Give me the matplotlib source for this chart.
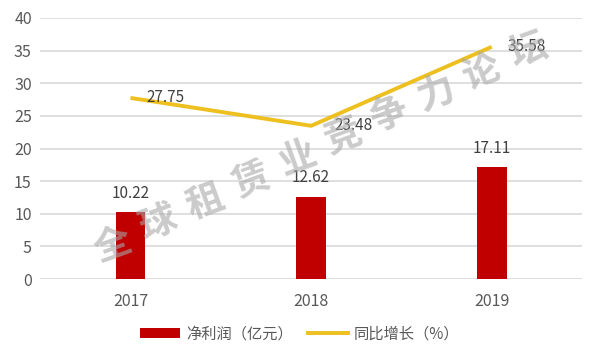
import matplotlib
matplotlib.use("Agg")
import matplotlib.pyplot as plt
from matplotlib.lines import Line2D
from matplotlib.patches import Patch

plt.rcParams['font.family'] = ['Noto Sans CJK SC', 'DejaVu Sans']

years = ["2017", "2018", "2019"]
profit = [10.22, 12.62, 17.11]
growth = [27.75, 23.48, 35.58]
watermark = "全球租赁业竞争力论坛"

bar_color = '#C00000'
line_color = '#EDC01F'
text_color = '#595959'

fig = plt.figure(figsize=(6, 3.6), dpi=100)
ax = fig.add_axes([0.067, 0.225, 0.903, 0.725])

x = range(len(years))
ax.bar(x, profit, width=0.165, color=bar_color, zorder=3)
ax.plot(x, growth, color=line_color, linewidth=2.8, zorder=4, solid_capstyle='butt')

for i, v in enumerate(profit):
    ax.text(i, v + 1.6, "%.2f" % v, ha='center', va='bottom', fontsize=11, color='#404040')
for i, v in enumerate(growth):
    dx = 0.09 if i != 1 else 0.13
    ax.text(i + dx, v, "%.2f" % v, ha='left', va='center', fontsize=11, color='#404040', zorder=5)

ax.set_xlim(-0.5, 2.5)
ax.set_ylim(0, 40)
ax.set_yticks(range(0, 41, 5))
ax.set_xticks(list(x))
ax.set_xticklabels(years)
ax.grid(axis='y', color='#D9D9D9', linewidth=1.2, zorder=0)
ax.tick_params(axis='both', length=0, labelsize=11.5, colors=text_color)
ax.tick_params(axis='x', pad=10)
ax.tick_params(axis='y', pad=6)
for s in ax.spines.values():
    s.set_visible(False)

# watermark, one character at a time along a diagonal (pixel positions)
x0, y0, x1, y1 = 112, 245, 528, 50
n = len(watermark)
for k, ch in enumerate(watermark):
    px = x0 + (x1 - x0) * k / (n - 1)
    py = y0 + (y1 - y0) * k / (n - 1)
    fig.text(px / 600, 1 - py / 360, ch, rotation=20, fontsize=27, fontweight='bold',
             color='#A8A8A8', alpha=0.6, ha='center', va='center', zorder=10)

handles = [Patch(facecolor=bar_color), Line2D([0], [0], color=line_color, linewidth=2.8)]
fig.legend(handles, ["净利润（亿元）", "同比增长（%）"], loc='center', bbox_to_anchor=(0.5, 0.072),
           ncol=2, frameon=False, fontsize=11, labelcolor=text_color, handlelength=2.6,
           handleheight=0.6, columnspacing=1.0, handletextpad=0.4)

fig.savefig("out.png", dpi=100)
